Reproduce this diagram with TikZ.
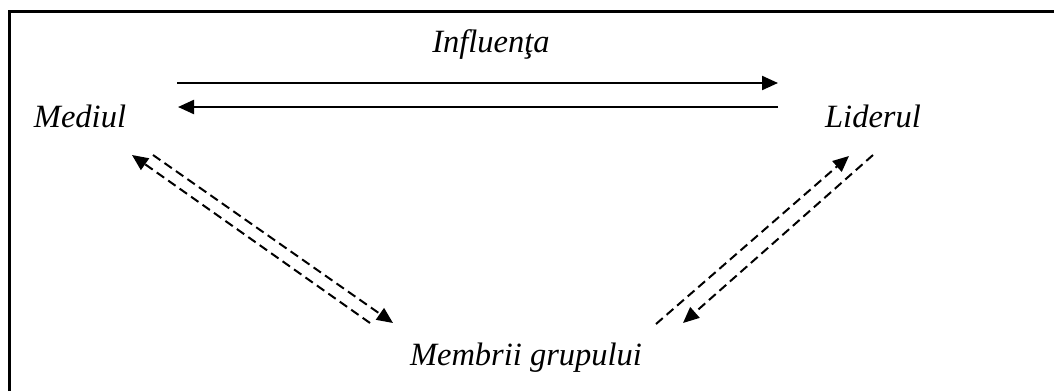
\documentclass[tikz,border=0pt]{standalone}
\usepackage{fontspec}
\setmainfont{Liberation Serif}
\usetikzlibrary{arrows.meta}
\tikzset{
  label text/.style={font=\fontsize{32.5}{38}\selectfont\itshape, inner sep=0pt},
  solidarrow/.style={line width=2.2pt, -{Triangle[length=16pt,width=14pt]}},
  dasharrow/.style={line width=2pt, dash pattern=on 9pt off 5pt, -{Triangle[length=16pt,width=14pt]}},
  frameline/.style={line width=3pt}
}
\begin{document}
\begin{tikzpicture}[x=1pt,y=-1pt]
\useasboundingbox (0,0) rectangle (1054,391);
% open frame: top and left edges
\draw[frameline] (9,391) -- (9,11) -- (1054,11);

% labels
\node[label text] (infl) at (491,45) {Influenţa};
\node[label text] (mediul) at (80,116) {Mediul};
\node[label text] (lider) at (873,116) {Liderul};
\node[label text] (membri) at (526,358) {Membrii grupului};

% end points of the arrows
\coordinate (mA) at (177,83);
\coordinate (lA) at (778,83);
\coordinate (mB) at (178,107);
\coordinate (lB) at (778,107);

\coordinate (m1s) at (153,155);
\coordinate (m1e) at (393,323);
\coordinate (m2s) at (370,323);
\coordinate (m2e) at (132,155);

\coordinate (l1s) at (656,324);
\coordinate (l1e) at (849,156);
\coordinate (l2s) at (873,155);
\coordinate (l2e) at (683,323);

% influence between environment and leader
\draw[solidarrow] (mA) -- (lA);
\draw[solidarrow] (lB) -- (mB);

% environment <-> group members
\draw[dasharrow] (m1s) -- (m1e);
\draw[dasharrow] (m2s) -- (m2e);

% leader <-> group members
\draw[dasharrow] (l1s) -- (l1e);
\draw[dasharrow] (l2s) -- (l2e);
\end{tikzpicture}
\end{document}
